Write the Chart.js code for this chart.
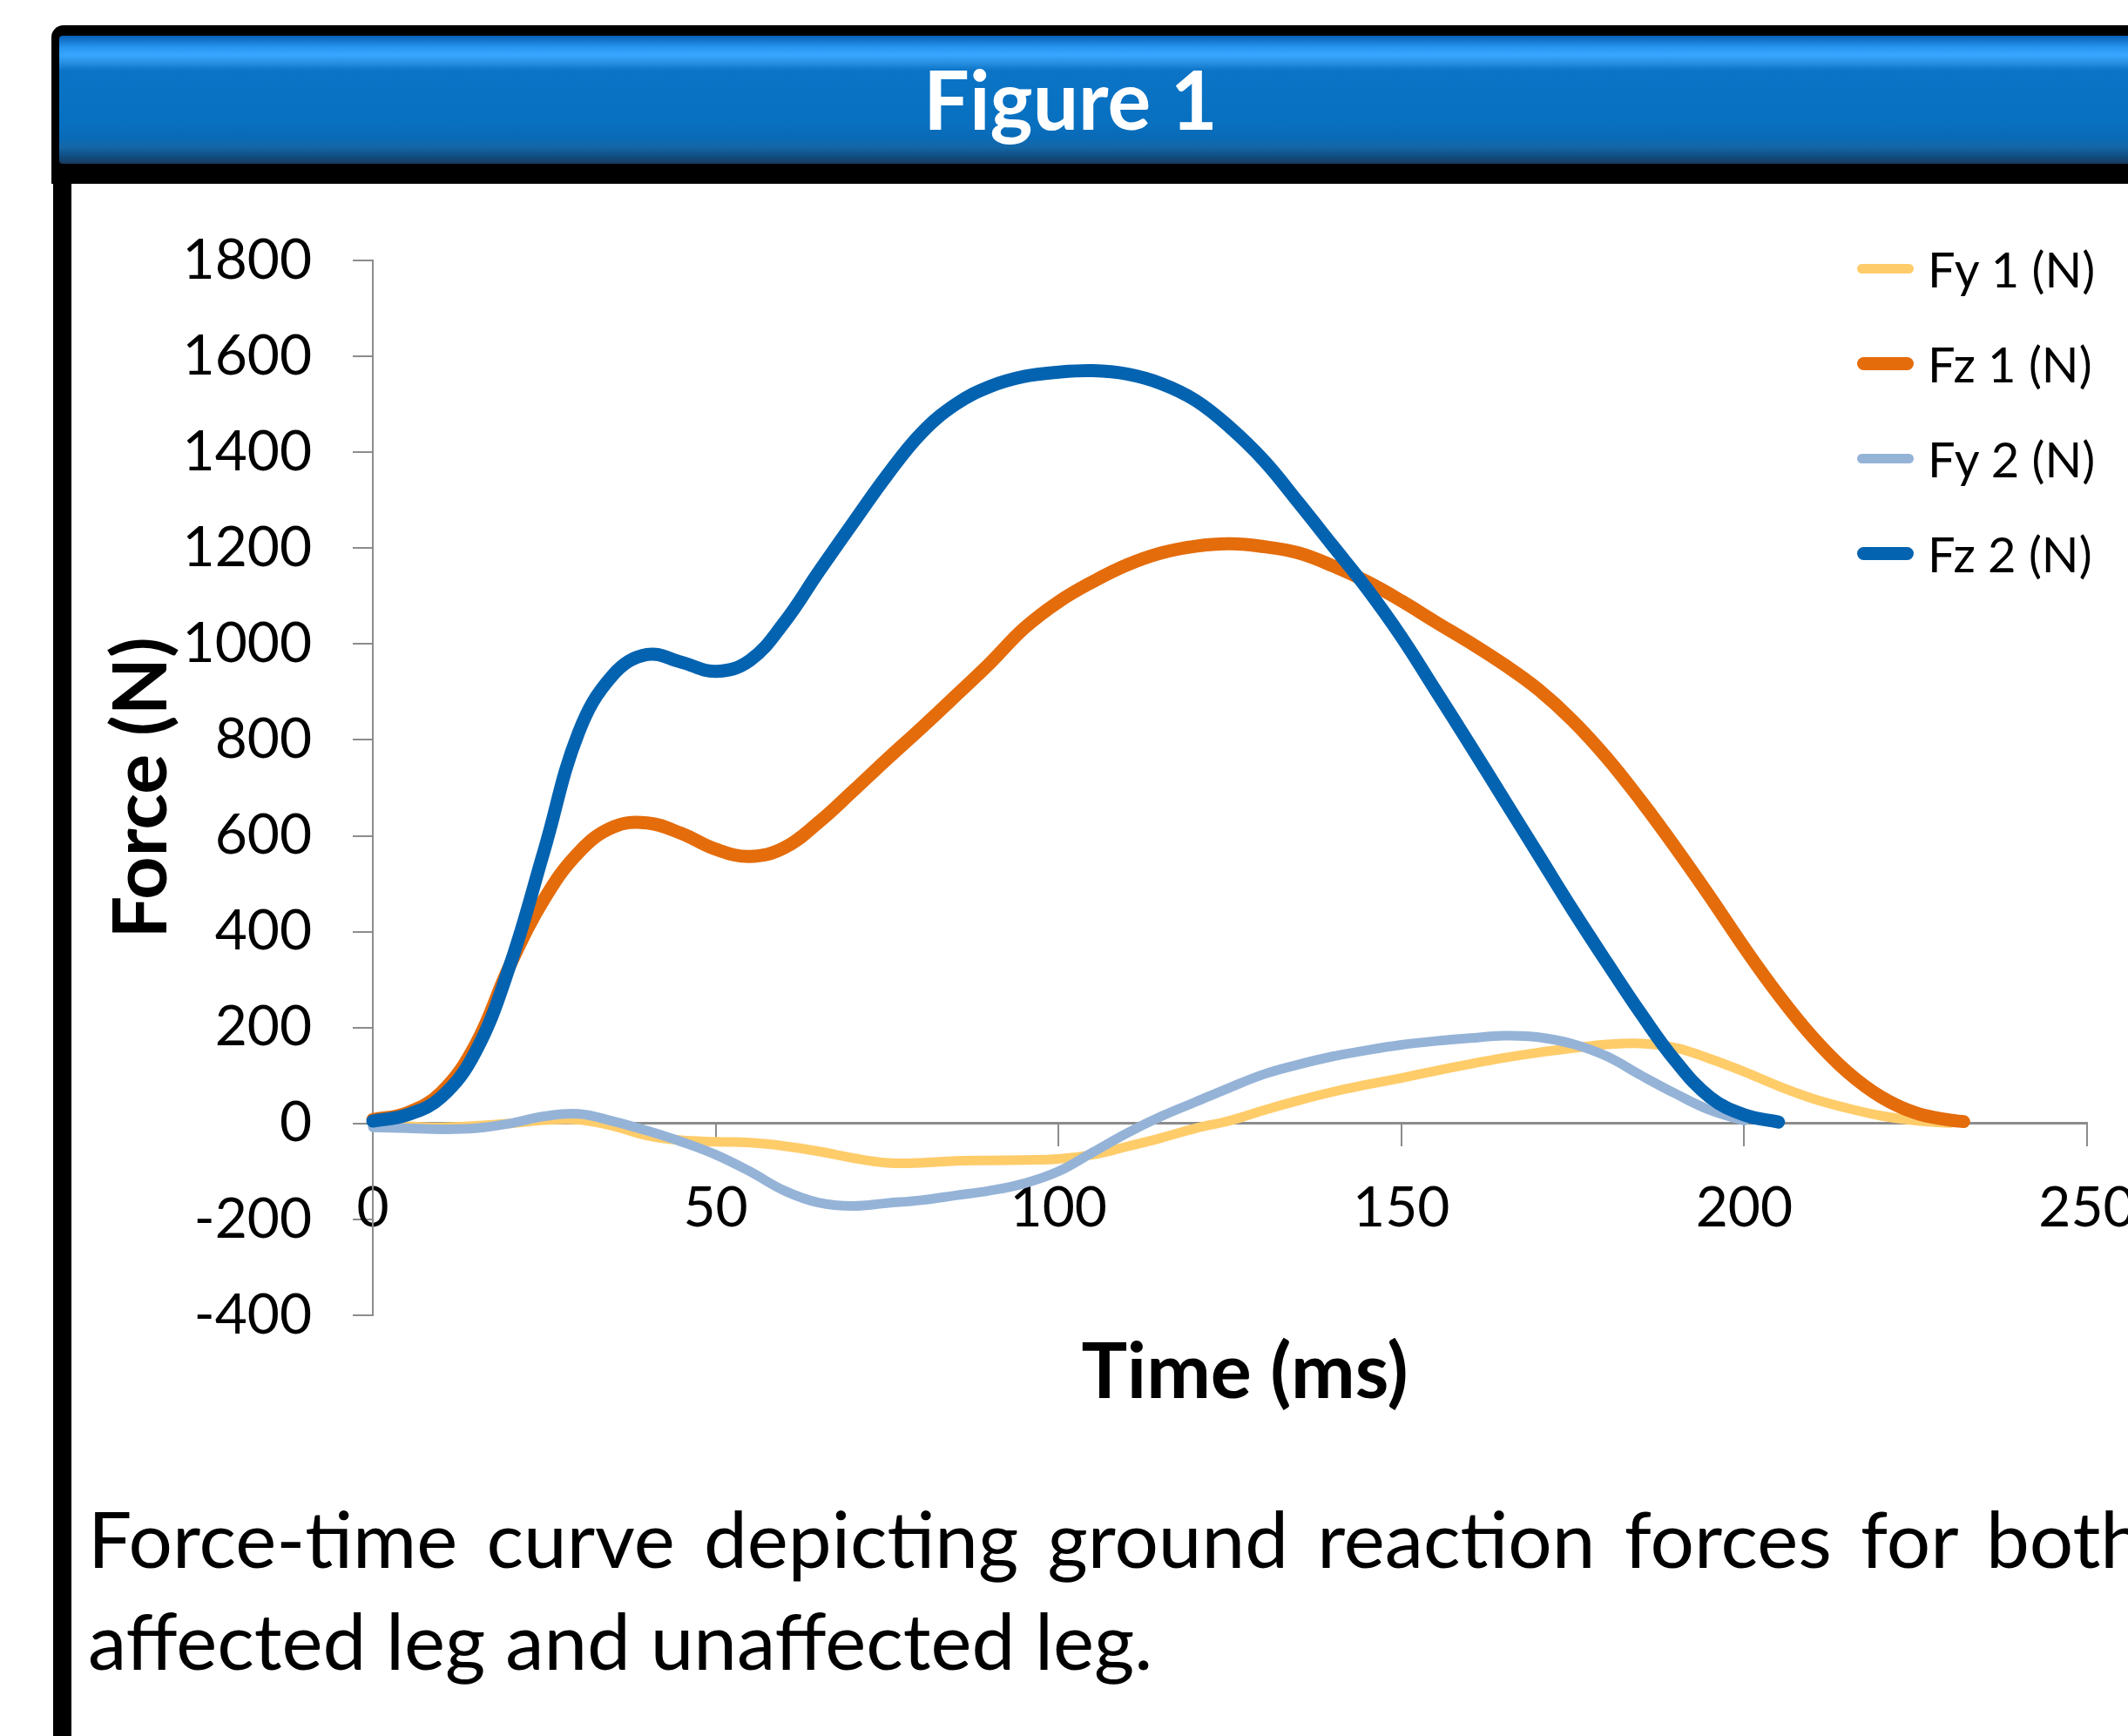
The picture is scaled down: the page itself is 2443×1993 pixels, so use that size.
<!DOCTYPE html>
<html lang="en">
<head>
  <meta charset="UTF-8">
  <title>Figure 1</title>
  <script src="https://cdn.jsdelivr.net/npm/chart.js"></script>
  <style>
    html, body {
      margin: 0;
      padding: 0;
      width: 2443px;
      height: 1993px;
      overflow: hidden;
      background: #fff;
      font-family: 'Lato', 'Open Sans', sans-serif;
    }
    .frame-top {
      position: absolute;
      left: 59px;
      top: 29px;
      width: 2460px;
      height: 182px;
      background: #000;
      border-radius: 14px 0 0 0;
    }
    .banner {
      position: absolute;
      left: 68px;
      top: 41px;
      width: 2450px;
      height: 147px;
      border-radius: 4px 0 0 4px;
      background: linear-gradient(to bottom,
        #0760b4 0px, #2a97f2 14px, #38a6ff 22px, #2b92e6 30px, #0c74c6 40px,
        #0870c0 100px, #0a6ab6 118px, #1567a6 128px, #0f4f84 138px, #193a5e 147px);
    }
    h1 {
      position: absolute;
      left: 0;
      top: 67px;
      width: 2458px;
      margin: 0;
      text-align: center;
      color: #fff;
      font-size: 93px;
      line-height: 93px;
      font-weight: bold;
    }
    .frame-left {
      position: absolute;
      left: 61px;
      top: 200px;
      width: 21px;
      height: 1800px;
      background: #000;
    }
    #chart {
      position: absolute;
      left: 0;
      top: 0;
    }
    .legend {
      position: absolute;
      left: 2132px;
      top: 254px;
    }
    .legend div {
      height: 109px;
      display: flex;
      align-items: center;
      font-size: 56px;
      line-height: 60px;
    }
    .legend span.swatch {
      display: inline-block;
      width: 65px;
      border-radius: 8px;
      margin-right: 16px;
    }
    .xtitle {
      position: absolute;
      left: 0;
      top: 1527px;
      width: 2858px;
      text-align: center;
      font-size: 88px;
      line-height: 88px;
      font-weight: bold;
    }
    .caption {
      position: absolute;
      left: 101px;
      top: 1707px;
      width: 2360px;
      font-size: 89px;
      line-height: 117px;
      text-align: justify;
      margin: 0;
    }
  </style>
</head>
<body>
  <div class="frame-top"></div>
  <div class="banner"></div>
  <h1>Figure 1</h1>
  <div class="frame-left"></div>
  <p class="caption">Force-time curve depicting ground reaction forces for both affected leg and unaffected leg.</p>
  <div class="xtitle">Time (ms)</div>
  <div class="legend" id="legend"></div>
  <canvas id="chart" width="2443" height="1993"></canvas>
  <script>
    const timeMs = [0, 5, 10, 15, 20, 25, 30, 35, 40, 45, 50, 55, 60, 65, 70, 75, 80, 85, 90, 95,
      100, 105, 110, 115, 120, 125, 130, 135, 140, 145, 150, 155, 160, 165, 170, 175, 180, 185, 190, 195,
      200, 205, 210, 215, 220, 225, 230, 232];

    const fy1 = [-5, -6, -8, -5, 0, 7, 8, -5, -25, -35, -38, -40, -47, -58, -72, -82, -82, -78, -77, -76,
      -74, -65, -48, -30, -10, 6, 28, 48, 66, 81, 95, 110, 124, 137, 148, 157, 165, 167, 158, 135,
      108, 78, 52, 32, 16, 6, 1, null];

    const fz1 = [8, 22, 65, 165, 330, 468, 565, 618, 627, 605, 572, 557, 575, 628, 693, 760, 825, 892, 960, 1033,
      1088, 1130, 1165, 1190, 1204, 1209, 1203, 1190, 1163, 1130, 1090, 1046, 1003, 957, 905, 840, 762, 672, 575, 473,
      367, 268, 180, 108, 55, 22, 7, 4];

    const fy2 = [-8, -10, -12, -10, 0, 15, 20, 5, -15, -38, -65, -100, -140, -165, -172, -166, -160, -150, -140, -125,
      -100, -60, -20, 15, 45, 75, 103, 123, 140, 153, 164, 172, 178, 183, 180, 166, 140, 100, 62, 28,
      6, null, null, null, null, null, null, null];

    const fz2 = [5, 18, 55, 150, 330, 570, 815, 935, 978, 962, 943, 966, 1045, 1150, 1252, 1352, 1440, 1500, 1537, 1558,
      1567, 1570, 1563, 1543, 1508, 1452, 1382, 1295, 1205, 1115, 1015, 903, 790, 675, 560, 445, 335, 228, 130, 55,
      18, 3, null, null, null, null, null, null];

    const seriesNames = ['Fy 1 (N)', 'Fz 1 (N)', 'Fy 2 (N)', 'Fz 2 (N)'];
    const seriesColors = ['#ffcc6a', '#e46c0b', '#95b3d7', '#0463b0'];
    const seriesWidths = [11, 15, 11, 15];
    const forceTicks = [-400, -200, 0, 200, 400, 600, 800, 1000, 1200, 1400, 1600, 1800];
    const timeTicks = [0, 50, 100, 150, 200, 250];

    const allSeries = [fy1, fz1, fy2, fz2];
    const toPoints = vals => vals.map((v, i) => ({ x: timeMs[i], y: v }));

    const datasets = allSeries.map((vals, i) => ({
      label: seriesNames[i],
      data: toPoints(vals),
      borderColor: seriesColors[i],
      backgroundColor: seriesColors[i],
      borderWidth: seriesWidths[i],
      borderCapStyle: 'round',
      borderJoinStyle: 'round',
      pointRadius: 0,
      tension: 0.4,
      spanGaps: false,
      fill: false,
      clip: 12,
      order: 4 - i
    }));

    // legend sits inside the plot, so build it in html
    const legend = document.getElementById('legend');
    seriesNames.forEach((name, i) => {
      const row = document.createElement('div');
      row.innerHTML = `<span class="swatch" style="height:${seriesWidths[i]}px;background:${seriesColors[i]}"></span>${name}`;
      legend.appendChild(row);
    });

    new Chart(document.getElementById('chart'), {
      type: 'line',
      data: { datasets },
      options: {
        responsive: false,
        animation: false,
        devicePixelRatio: 1,
        layout: {
          autoPadding: false,
          padding: { top: 299, right: 47, bottom: 483, left: 0 }
        },
        plugins: {
          legend: { display: false },
          tooltip: { enabled: false }
        },
        scales: {
          x: {
            type: 'linear',
            position: { y: 0 },
            min: 0,
            max: 250,
            afterBuildTicks: s => { s.ticks = timeTicks.map(v => ({ value: v })); },
            afterFit: s => { s.paddingLeft = 0; s.paddingRight = 0; },
            ticks: {
              padding: 34,
              color: '#000',
              font: { family: 'Lato', size: 64 },
              callback: v => String(v)
            },
            grid: { drawOnChartArea: false, tickLength: 25, color: '#8c8c8c', lineWidth: 2 },
            border: { color: '#8c8c8c', width: 3 }
          },
          y: {
            min: -400,
            max: 1800,
            afterBuildTicks: s => { s.ticks = forceTicks.map(v => ({ value: v })); },
            afterFit: s => { s.width = 428; s.paddingTop = 0; s.paddingBottom = 0; },
            ticks: {
              padding: 47,
              color: '#000',
              font: { family: 'Lato', size: 64 },
              callback: v => String(v)
            },
            grid: { drawOnChartArea: false, tickLength: 23, color: '#8c8c8c', lineWidth: 2 },
            border: { color: '#8c8c8c', width: 2 },
            title: {
              display: true,
              text: 'Force (N)',
              color: '#000',
              padding: { top: 112, bottom: 0 },
              font: { family: 'Lato', size: 86, weight: 'bold' }
            }
          }
        }
      }
    });
  </script>
</body>
</html>
